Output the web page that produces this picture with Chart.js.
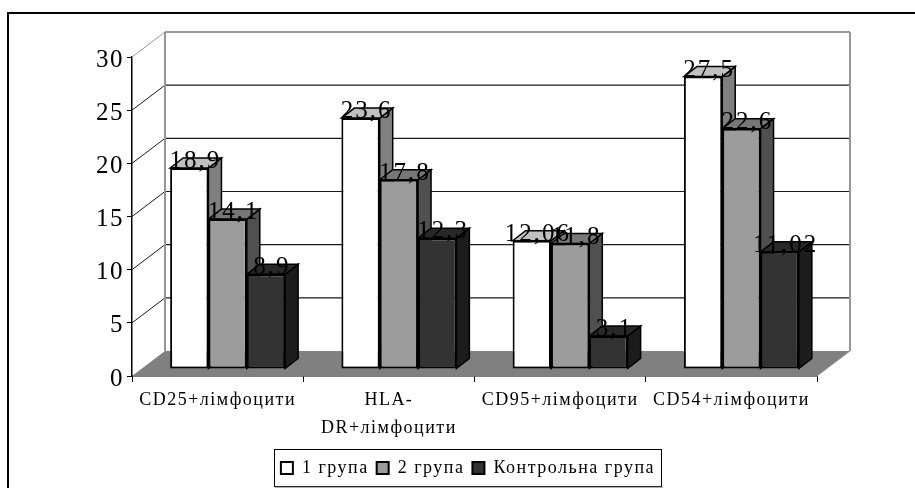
<!DOCTYPE html>
<html>
<head>
<meta charset="utf-8">
<script src="https://cdn.jsdelivr.net/npm/chart.js@4/dist/chart.umd.min.js"></script>
<style>
    html, body { margin: 0; padding: 0; background: #fff; overflow: hidden; }
    #frame { position: absolute; left: 7px; top: 12px; width: 908px; height: 476px; border-left: 2px solid #000; border-top: 2px solid #000; box-sizing: border-box; }
    canvas { position: absolute; left: 0; top: 0; }
</style>
</head>
<body>
<div id="frame"></div>
<canvas id="chart" width="915" height="488"></canvas>
<script>
const categories = ['CD25+лімфоцити', ['HLA-', 'DR+лімфоцити'], 'CD95+лімфоцити', 'CD54+лімфоцити'];
const group1 = [18.9, 23.6, 12.06, 27.5];
const group2 = [14.1, 17.8, 11.8, 22.6];
const control = [8.9, 12.3, 3.1, 11.02];
const seriesNames = ['1 група', '2 група', 'Контрольна група'];
const yTicks = [0, 5, 10, 15, 20, 25, 30];

const fontFamily = '"Liberation Serif", serif';

// depth of the box and of the bars, in pixels
const wallDx = 33, wallDy = -25;
const barShiftX = 10, barShiftY = -7;
const barDx = 13, barDy = -10;

// top and side face colours per dataset
const faces = [
    { top: '#c0c0c0', side: '#808080' },
    { top: '#777777', side: '#505050' },
    { top: '#282828', side: '#1c1c1c' }
];

function poly(ctx, pts, fill, stroke, width) {
    ctx.beginPath();
    pts.forEach((p, i) => i ? ctx.lineTo(p[0], p[1]) : ctx.moveTo(p[0], p[1]));
    ctx.closePath();
    if (fill) {
        ctx.fillStyle = fill;
        ctx.fill();
    }
    if (stroke) {
        ctx.strokeStyle = stroke;
        ctx.lineWidth = width || 1;
        ctx.stroke();
    }
}

function line(ctx, x1, y1, x2, y2, color, width) {
    ctx.beginPath();
    ctx.moveTo(x1, y1);
    ctx.lineTo(x2, y2);
    ctx.strokeStyle = color;
    ctx.lineWidth = width;
    ctx.stroke();
}

const box3d = {
    id: 'box3d',
    beforeLayout(chart) {
        chart.ctx.letterSpacing = '1.5px';
    },
    afterLayout(chart) {
        // legend sits a little right of the centre and has its own frame
        const lg = chart.legend;
        lg.left = 234;
        lg.right = 702;
        lg.width = 468;
    },
    beforeDraw(chart) {
        chart.ctx.letterSpacing = '1.5px';
    },
    beforeDatasetsDraw(chart) {
        // back wall, side wall and floor
        const ctx = chart.ctx;
        const { left, right } = chart.chartArea;
        const y = chart.scales.y;
        const y0 = y.getPixelForValue(0);
        const yTop = y.getPixelForValue(30);
        poly(ctx, [[left, y0], [right, y0], [right + wallDx, y0 + wallDy], [left + wallDx, y0 + wallDy]], '#808080');
        yTicks.forEach(v => {
            if (v === 0) return;
            const py = y.getPixelForValue(v);
            const c = v === 30 ? '#969696' : '#1a1a1a';
            line(ctx, left, py, left + wallDx, py + wallDy, c, 1);
            line(ctx, left + wallDx, py + wallDy, right + wallDx, py + wallDy, c, v === 30 ? 2 : 1.2);
        });
        line(ctx, left + wallDx, yTop + wallDy, left + wallDx, y0 + wallDy, '#969696', 2);
        line(ctx, right + wallDx, yTop + wallDy, right + wallDx, y0 + wallDy, '#969696', 2);
        line(ctx, right, y0, right + wallDx, y0 + wallDy, '#969696', 1);

        // side and top of each bar, first series first so the next one covers it
        ctx.save();
        ctx.translate(barShiftX, barShiftY);
        chart.data.datasets.forEach((ds, i) => {
            const f = faces[i];
            chart.getDatasetMeta(i).data.forEach(bar => {
                const l = bar.x - bar.width / 2, r = bar.x + bar.width / 2;
                poly(ctx, [[r, bar.y], [r + barDx, bar.y + barDy], [r + barDx, bar.base + barDy], [r, bar.base]], f.side, '#000', 1.5);
                poly(ctx, [[l, bar.y], [l + barDx, bar.y + barDy], [r + barDx, bar.y + barDy], [r, bar.y]], f.top, '#000', 1.5);
            });
        });
        ctx.restore();
    },
    beforeDatasetDraw(chart) {
        // shift so the front face lands on the floor
        chart.ctx.save();
        chart.ctx.translate(barShiftX, barShiftY);
    },
    afterDatasetDraw(chart) {
        chart.ctx.restore();
    },
    afterDatasetsDraw(chart) {
        // value labels on top of the bars
        const ctx = chart.ctx;
        ctx.save();
        ctx.font = '25px ' + fontFamily;
        ctx.letterSpacing = '2px';
        ctx.fillStyle = '#000';
        ctx.textAlign = 'center';
        ctx.textBaseline = 'alphabetic';
        chart.data.datasets.forEach((ds, i) => {
            chart.getDatasetMeta(i).data.forEach((bar, j) => {
                const txt = String(ds.data[j]).replace('.', ',');
                ctx.fillText(txt, bar.x + barShiftX + 6, bar.y + barShiftY);
            });
        });
        ctx.restore();
    },
    afterDraw(chart) {
        // legend frame
        const ctx = chart.ctx;
        ctx.save();
        ctx.strokeStyle = '#000';
        ctx.lineWidth = 1;
        ctx.strokeRect(274.5, 449.5, 387, 37);
        line(ctx, 275, 487.2, 663, 487.2, '#888', 1);
        ctx.restore();
    }
};

new Chart(document.getElementById('chart'), {
    type: 'bar',
    data: {
        labels: categories,
        datasets: [
            { label: seriesNames[0], data: group1, backgroundColor: '#ffffff' },
            { label: seriesNames[1], data: group2, backgroundColor: '#9c9c9c' },
            { label: seriesNames[2], data: control, backgroundColor: '#333333' }
        ]
    },
    options: {
        responsive: false,
        animation: false,
        layout: { padding: { top: 57, left: 0, right: 98, bottom: 1 } },
        elements: {
            bar: { borderColor: '#000', borderWidth: 2, borderSkipped: false }
        },
        datasets: {
            bar: { categoryPercentage: 0.6715, barPercentage: 1 }
        },
        scales: {
            x: {
                afterFit(scale) { scale.height = 75; },
                grid: { drawOnChartArea: false, color: '#000', tickLength: 6, offset: true },
                border: { color: '#000', width: 1.5 },
                ticks: {
                    color: '#000',
                    maxRotation: 0,
                    autoSkip: false,
                    padding: 4,
                    font: { family: fontFamily, size: 18, lineHeight: 1.55 }
                }
            },
            y: {
                min: 0,
                max: 30,
                afterFit(scale) { scale.width = 132; },
                afterBuildTicks(scale) { scale.ticks = yTicks.map(v => ({ value: v })); },
                grid: { drawOnChartArea: false, color: '#000', tickLength: 5 },
                border: { color: '#000', width: 1.5 },
                ticks: {
                    color: '#000',
                    padding: 3,
                    labelOffset: 3,
                    font: { family: fontFamily, size: 25 }
                }
            }
        },
        plugins: {
            tooltip: { enabled: false },
            legend: {
                position: 'bottom',
                labels: {
                    color: '#000',
                    boxWidth: 12,
                    boxHeight: 12,
                    padding: 8,
                    font: { family: fontFamily, size: 18 }
                }
            }
        }
    },
    plugins: [box3d]
});
</script>
</body>
</html>
